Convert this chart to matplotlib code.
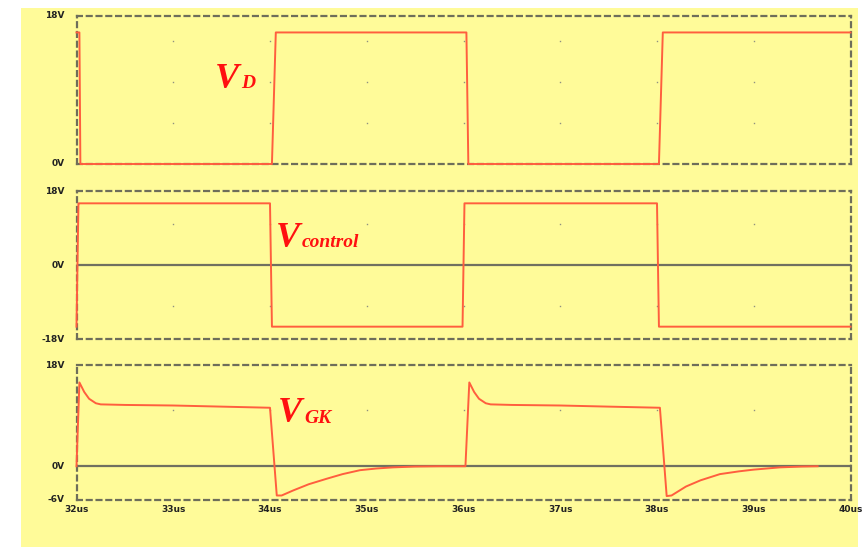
import matplotlib.pyplot as plt
import matplotlib as mpl

# ---- data (time in us, voltage in V) ----
t_vd = [32.0, 32.03, 32.04, 34.02, 34.06, 36.03, 36.05, 38.02, 38.06, 40.0]
v_vd = [16, 16, 0, 0, 16, 16, 0, 0, 16, 16]

t_ctrl = [32.0, 32.02, 32.03, 34.0, 34.02, 35.99, 36.01, 38.0, 38.02, 40.0]
v_ctrl = [-15, 15, 15, 15, -15, -15, 15, 15, -15, -15]

t_gk = [32.0, 32.03, 32.08, 32.13, 32.2, 32.25, 32.5, 33.0, 33.5, 34.0,
        34.07, 34.12, 34.24, 34.4, 34.59, 34.75, 34.93, 35.1, 35.27, 35.5, 35.74,
        36.02, 36.06, 36.11, 36.16, 36.23, 36.28, 36.5, 37.0, 37.5, 38.03,
        38.10, 38.15, 38.3, 38.45, 38.65, 38.85, 39.0, 39.27, 39.5, 39.66]
v_gk = [0, 14.9, 13.2, 12.0, 11.2, 11.0, 10.9, 10.8, 10.6, 10.4,
        -5.2, -5.2, -4.3, -3.2, -2.2, -1.4, -0.7, -0.4, -0.2, -0.05, 0,
        0, 14.9, 13.2, 12.0, 11.2, 11.0, 10.9, 10.8, 10.6, 10.4,
        -5.3, -5.2, -3.6, -2.5, -1.4, -0.9, -0.6, -0.2, -0.05, 0]

x_ticks = [32, 33, 34, 35, 36, 37, 38, 39, 40]
x_labels = ['32us', '33us', '34us', '35us', '36us', '37us', '38us', '39us', '40us']

panels = [
    dict(t=t_vd, v=v_vd, ylim=(0, 18), ylabels=[(18, '18V'), (0, '0V')],
         dots=[5, 10, 15], zero=False, rect=(16, 164)),
    dict(t=t_ctrl, v=v_ctrl, ylim=(-18, 18), ylabels=[(18, '18V'), (0, '0V'), (-18, '-18V')],
         dots=[10, -10], zero=True, rect=(191, 339)),
    dict(t=t_gk, v=v_gk, ylim=(-6, 18), ylabels=[(18, '18V'), (0, '0V'), (-6, '-6V')],
         dots=[10], zero=True, rect=(365, 500)),
]

# signal labels: (main letter, subscript, x_px of V, baseline_px, x_px of subscript, sub baseline)
labels = [
    ('V', 'D', 215, 88, 241, 88),
    ('V', 'control', 276, 247, 302, 247),
    ('V', 'GK', 278, 422, 304, 423),
]

W, H = 863, 547
fig = plt.figure(figsize=(W / 100, H / 100), dpi=100)
fig.patch.set_facecolor('white')
bg = '#fffb99'
fig.patches.append(mpl.patches.Rectangle((21 / W, 1 - 547 / H), (858 - 21) / W, (547 - 8) / H,
                                         transform=fig.transFigure, facecolor=bg,
                                         edgecolor='none', zorder=-10))

frame_col = '#6e6e5a'
line_col = '#ff5e3e'
x0, x1 = 76.5, 850.5

for i, p in enumerate(panels):
    top, bot = p['rect']
    ax = fig.add_axes([x0 / W, 1 - bot / H, (x1 - x0) / W, (bot - top) / H])
    ax.set_facecolor('none')
    ax.set_xlim(32, 40)
    ax.set_ylim(*p['ylim'])
    for s in ax.spines.values():
        s.set_linestyle((0, (2.2, 2.2)))
        s.set_color(frame_col)
        s.set_linewidth(1.6)
    ax.set_xticks([])
    ax.set_yticks([])
    for xt in x_ticks[1:-1]:
        for yd in p['dots']:
            ax.plot(xt, yd, marker='s', ms=1.0, color='#909080', mec='none')
    if p['zero']:
        ax.axhline(0, color='#707060', lw=1.6, zorder=1)
    ax.plot(p['t'], p['v'], color=line_col, lw=1.4, zorder=3, clip_on=False)
    for yv, lab in p['ylabels']:
        ax.text(31.88, yv, lab, ha='right', va='center', fontsize=6.5,
                fontweight='bold', color='#222222', family='DejaVu Sans')
    if i == 2:
        for xt, xl in zip(x_ticks, x_labels):
            ax.text(xt, -7.6, xl, ha='center', va='center', fontsize=6.5,
                    fontweight='bold', color='#222222', family='DejaVu Sans')

for main, sub, xv, bv, xs, bs in labels:
    fig.text(xv / W, 1 - bv / H, main, fontsize=26, color='#ff1010', ha='left',
             va='baseline', family='Liberation Serif', style='italic', fontweight='bold')
    fig.text(xs / W, 1 - bs / H, sub, fontsize=14, color='#ff1010', ha='left',
             va='baseline', family='Liberation Serif', style='italic', fontweight='bold')

fig.savefig('out.png', dpi=100, facecolor='white')
